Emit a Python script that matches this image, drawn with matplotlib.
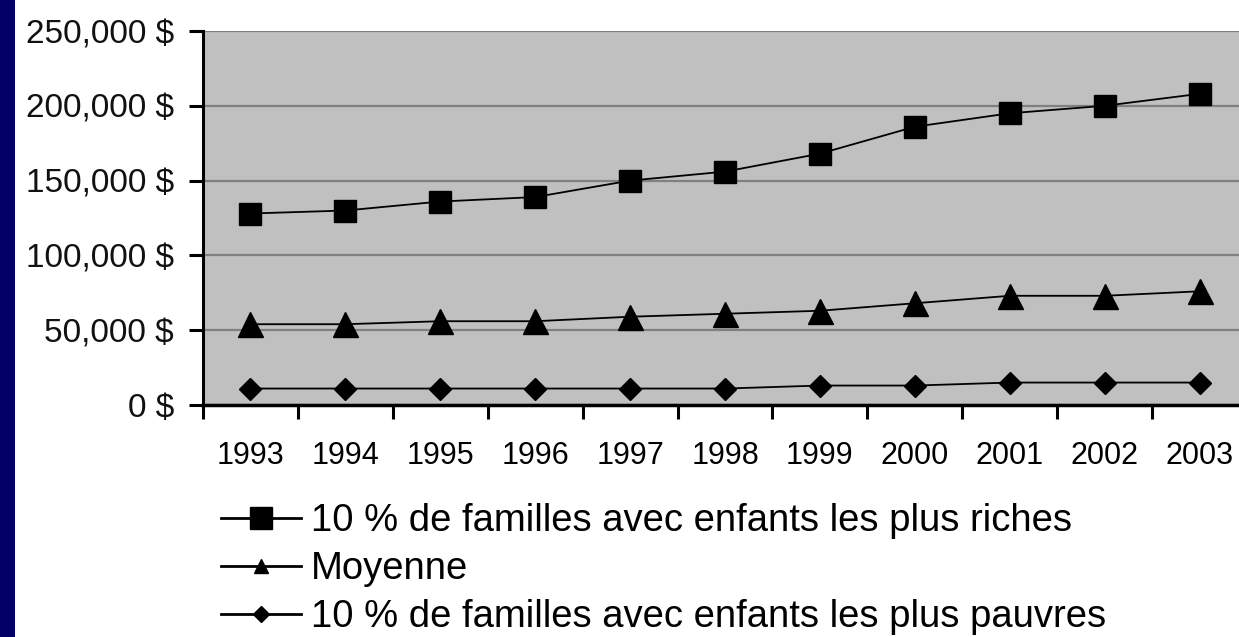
import matplotlib
matplotlib.use("Agg")
import matplotlib.pyplot as plt
from matplotlib.lines import Line2D
from matplotlib.patches import Rectangle
from matplotlib.ticker import FuncFormatter, FixedLocator

years = ["1993", "1994", "1995", "1996", "1997", "1998", "1999", "2000", "2001", "2002", "2003"]
riches = [128000, 130000, 136000, 139000, 150000, 156000, 168000, 186000, 195000, 200000, 208000]
moyenne = [54000, 54000, 56000, 56000, 59000, 61000, 63000, 68000, 73000, 73000, 76000]
pauvres = [11000, 11000, 11000, 11000, 11000, 11000, 13000, 13000, 15000, 15000, 15000]
labels = ["10 % de familles avec enfants les plus riches",
          "Moyenne",
          "10 % de familles avec enfants les plus pauvres"]
yticks = [0, 50000, 100000, 150000, 200000, 250000]

W, H = 1239, 637
fig = plt.figure(figsize=(W / 100, H / 100), dpi=100)
fig.patch.set_facecolor("white")
plt.rcParams["font.family"] = ["Liberation Sans", "DejaVu Sans"]

left, right, top, bottom = 203, 1247, 31, 405
ax = fig.add_axes([left / W, (H - bottom) / H, (right - left) / W, (bottom - top) / H])
ax.set_facecolor("#C0C0C0")

x = list(range(len(years)))
ax.plot(x, riches, color="black", lw=1.3, marker="s", ms=16, mfc="black", mec="black", zorder=3)
ax.plot(x, moyenne, color="black", lw=1.3, marker="^", ms=18, mfc="black", mec="black", zorder=3)
ax.plot(x, pauvres, color="black", lw=1.3, marker="D", ms=11.5, mfc="black", mec="black", zorder=3)

ax.set_xlim(-0.5, len(years) - 0.5)
ax.set_ylim(0, 250000)
ax.set_yticks(yticks)
ax.yaxis.set_major_formatter(FuncFormatter(lambda v, p: f"{int(v):,} $"))
ax.grid(axis="y", color="#808080", lw=1.6, zorder=1)
ax.set_axisbelow(True)

ax.set_xticks(x)
ax.set_xticklabels(years)
ax.xaxis.set_minor_locator(FixedLocator([i - 0.5 for i in range(len(years) + 1)]))
ax.tick_params(axis="x", which="major", length=0, pad=26, labelsize=22, labelcolor="black")
ax.tick_params(axis="x", which="minor", length=10, width=2.2, direction="out", color="black")
ax.tick_params(axis="y", which="major", length=10, width=2.2, direction="out", pad=11,
               labelsize=24, labelcolor="#111111", color="black")

for s in ["top", "right"]:
    ax.spines[s].set_visible(False)
ax.spines["left"].set_linewidth(2.2)
ax.spines["bottom"].set_linewidth(2.5)

handles = [
    Line2D([], [], color="black", lw=2, marker="s", ms=16, mfc="black", mec="black"),
    Line2D([], [], color="black", lw=2, marker="^", ms=10, mfc="black", mec="black"),
    Line2D([], [], color="black", lw=2, marker="D", ms=8, mfc="black", mec="black"),
]
fig.legend(handles, labels, loc="upper left", bbox_to_anchor=(221 / W, (H - 503) / H),
           frameon=False, fontsize=27.5, handlelength=2.1, handletextpad=0.26,
           labelspacing=0.32, borderpad=0, borderaxespad=0)

fig.add_artist(Rectangle((0, 0), 15 / W, 1, transform=fig.transFigure,
                         facecolor="#000066", edgecolor="none", zorder=10))

fig.savefig("out.png", dpi=100)
